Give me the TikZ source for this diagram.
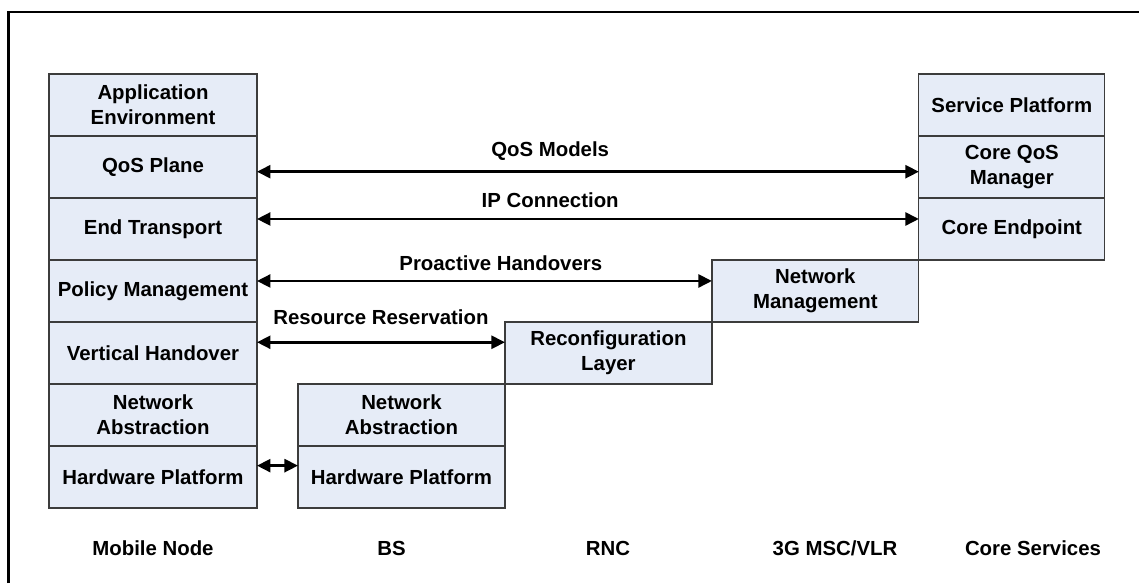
\documentclass[tikz,border=0pt]{standalone}
\usepackage{fontspec}
\setmainfont{Liberation Sans}
\usetikzlibrary{positioning,arrows.meta}

\definecolor{layerfill}{RGB}{230,236,247}
\definecolor{layerline}{RGB}{60,60,60}
\tikzset{
    layer/.style={rectangle, draw=layerline, fill=layerfill, line width=0.7pt,
        minimum width=4.14cm, minimum height=1.24cm, inner sep=0pt, outer sep=0pt,
        align=center, font=\bfseries\fontsize{11.6}{14.2}\selectfont},
    corelayer/.style={layer, minimum width=3.72cm},
    link/.style={{Triangle[length=2.7mm,width=2.6mm]}-{Triangle[length=2.7mm,width=2.6mm]},
        line width=1.5pt},
    lbl/.style={anchor=base, inner sep=0pt, font=\bfseries\fontsize{11.6}{14.2}\selectfont},
}

\begin{document}
\begin{tikzpicture}[x=0.02cm,y=-0.02cm]
    \useasboundingbox (0,0) rectangle (1139,583);
    % Outer frame (only the left and top edges are inside the picture)
    \draw [line width=1.6pt] (8.3,583) -- (8.3,12) -- (1139,12);

    % Mobile node stack:
    % The first layer sits at a coordinate, the others are stacked below it
    \node [layer, minimum width=4.16cm] (app) at (153,105) {Application\\Environment};
    \node [layer, minimum width=4.16cm, below=0pt of app] (qos) {QoS Plane};
    \node [layer, minimum width=4.16cm, below=0pt of qos] (endtr) {End Transport};
    \node [layer, minimum width=4.16cm, below=0pt of endtr] (policy) {Policy Management};
    \node [layer, minimum width=4.16cm, below=0pt of policy] (vho) {Vertical Handover};
    \node [layer, minimum width=4.16cm, below=0pt of vho] (netabs) {Network\\Abstraction};
    \node [layer, minimum width=4.16cm, below=0pt of netabs] (hw) {Hardware Platform};

    % BS stack:
    \node [layer, right=0.82cm of hw] (bshw) {Hardware Platform};
    \node [layer, above=0pt of bshw] (bsabs) {Network\\Abstraction};

    % RNC and 3G MSC/VLR: one step up each
    \node [layer, anchor=south west] (reconf) at (bsabs.north east) {Reconfiguration\\Layer};
    \node [layer, anchor=south west] (netman) at (reconf.north east) {Network\\Management};

    % Core services stack:
    \node [corelayer, anchor=south west] (cend) at (netman.north east) {Core Endpoint};
    \node [corelayer, above=0pt of cend] (cqos) {Core QoS\\Manager};
    \node [corelayer, above=0pt of cqos] (service) {Service Platform};

    % Links between the stacks:
    \draw [link] ([yshift=-0.094cm]qos.east) -- node [lbl, pos=.443, yshift=0.314cm] (qosmod) {QoS Models} ([yshift=-0.094cm]cqos.west);
    \draw [link] ([yshift=0.2cm]endtr.east) -- node [lbl, pos=.443, yshift=0.22cm] (ipcon) {IP Connection} ([yshift=0.2cm]cend.west);
    \draw [link] ([yshift=0.2cm]policy.east) -- node [lbl, pos=.536, yshift=0.206cm] (proho) {Proactive Handovers} ([yshift=0.2cm]netman.west);
    \draw [link] ([yshift=0.214cm]vho.east) -- node [lbl, pos=.5, yshift=0.346cm] (resres) {Resource Reservation} ([yshift=0.214cm]reconf.west);
    \draw [link] ([yshift=0.226cm]hw.east) -- ([yshift=0.226cm]bshw.west);

    % Names of the network elements:
    \foreach \x/\name/\txt in {153/mn/{Mobile Node}, 391.5/bs/{BS}, 608/rnc/{RNC}, 835/msc/{3G MSC/VLR}, 1033/core/{Core Services}}{%
        \node [lbl] (\name) at (\x,555) {\txt};
    }
\end{tikzpicture}
\end{document}
